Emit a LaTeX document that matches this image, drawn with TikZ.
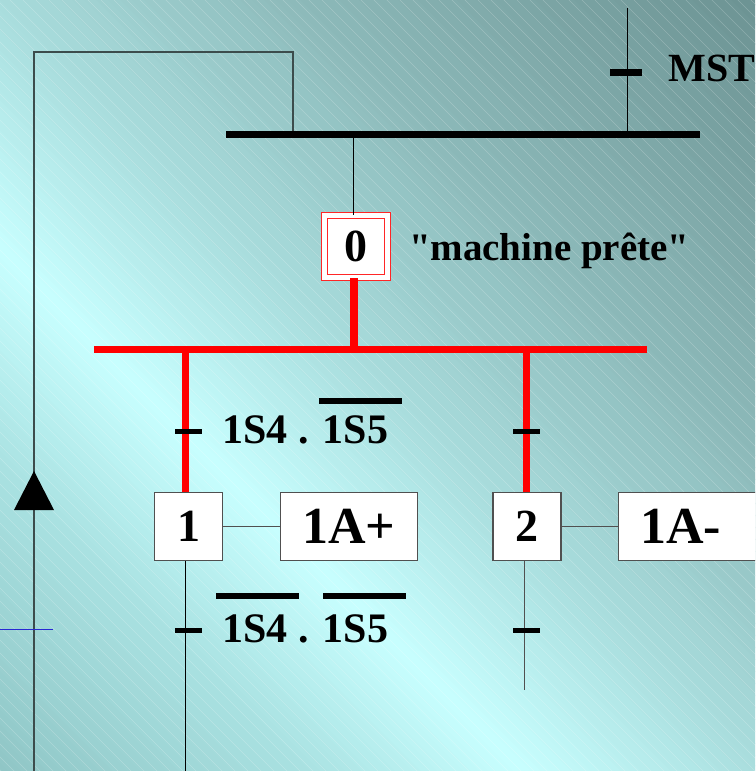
\documentclass[tikz,border=0pt]{standalone}
\usepackage{fontspec}
\setmainfont{Liberation Serif}[Ligatures=TeXOff]
\definecolor{g0}{RGB}{106,144,144}
\definecolor{g1}{RGB}{140,185,185}
\definecolor{g2}{RGB}{168,220,220}
\definecolor{g3}{RGB}{200,255,255}
\definecolor{g4}{RGB}{170,226,226}
\definecolor{g5}{RGB}{142,196,196}
\definecolor{loopc}{RGB}{60,76,76}
\definecolor{boxc}{RGB}{80,80,80}
\definecolor{bluec}{RGB}{40,40,210}
\begin{document}
\begin{tikzpicture}[x=1pt,y=-1pt,
  stepbox/.style={draw=boxc, fill=white, line width=1.3pt, minimum width=68pt, minimum height=68pt, inner sep=0pt, font=\fontsize{46}{46}\selectfont\bfseries},
  initbox/.style={draw=red!85, double=white, double distance=5pt, line width=1pt, fill=white, minimum width=63pt, minimum height=62pt, inner sep=0pt, font=\fontsize{46}{46}\selectfont\bfseries},
  actbox/.style={draw=boxc, fill=white, line width=1.3pt, minimum width=137pt, minimum height=68pt, inner sep=0pt, font=\fontsize{52}{52}\selectfont\bfseries},
  actboxl/.style={draw=boxc, fill=white, line width=1.3pt, minimum height=68pt, inner xsep=21.6pt, inner ysep=0pt, text width=128pt, align=left, font=\fontsize{52}{52}\selectfont\bfseries},
  lbl/.style={anchor=base west, inner sep=0pt, font=\fontsize{42}{42}\selectfont\bfseries},
  thinl/.style={line width=1pt, black},
  tick/.style={line width=5pt, black},
  ovl/.style={line width=6pt, black},
  redl/.style={line width=7pt, red},
]
\useasboundingbox (0,0) rectangle (755,771);
\clip (0,0) rectangle (755,771);
% background gradient (bands parallel to the diagonal hatching)
\foreach \va/\vb/\ca/\cb in {-790/-300/g0/g1, -300/0/g1/g2, 0/250/g2/g3, 250/460/g3/g4, 460/790/g4/g5}{
  \foreach \k in {0,...,24}{
    \pgfmathsetmacro\vs{\va+(\vb-\va)*\k/25}
    \pgfmathsetmacro\ve{\va+(\vb-\va)*(\k+1)/25+1}
    \pgfmathtruncatemacro\p{100*(\k+0.5)/25}
    \colorlet{stripc}{\cb!\p!\ca}
    \fill[stripc] (-10,\vs-10) -- (800,\vs+800) -- (800,\ve+800) -- (-10,\ve-10) -- cycle;
  }
}
\foreach \c in {-790,-777,...,790}{
  \draw[white, opacity=0.22, line width=0.6pt] (-10,\c-10) -- (800,\c+800);
}
% coordinates
\coordinate (barL) at (226,134.5);
\coordinate (barR) at (700,134.5);
\coordinate (loopT) at (293,131);
\coordinate (mstT) at (627,8);
\coordinate (mstB) at (627,131);
\coordinate (j0) at (353.5,138);
\coordinate (rj) at (353.5,349.5);
\coordinate (rbL) at (94,349.5);
\coordinate (rbR) at (647,349.5);
\coordinate (r1) at (185.5,349.5);
\coordinate (r2) at (526,349.5);
\coordinate (b1) at (185.5,771);
\coordinate (b2) at (524,690);
\coordinate (loopB) at (34,771);
% nodes
\node[initbox] (s0) at (356,246.5) {0};
\node[stepbox] (s1) at (188.5,526.5) {1};
\node[actbox] (a1) at (349,526.5) {1A+};
\node[stepbox] (s2) at (527,526.5) {2};
\node[actboxl, anchor=west] (a2) at (618,526.5) {1A-};
% loop back line
\draw[loopc, line width=1.5pt] (loopB) -- (34,52) -- (293,52) -- (loopT);
\fill[black] (34,471) -- (14,510) -- (54,510) -- cycle;
\draw[bluec, line width=0.9pt] (0,629) -- (53,629);
% top synchronisation bar and MST transition
\draw[thinl] (mstT) -- (mstB);
\draw[tick, line width=7pt] (610,72.5) -- (642,72.5);
\draw[line width=7pt] (barL) -- (barR);
\node[lbl, font=\fontsize{40}{40}\selectfont\bfseries] (mst) at (668.5,81) {MST};
% step 0
\draw[thinl] (j0) -- (j0 |- s0.north);
\node[lbl, font=\fontsize{39}{39}\selectfont\bfseries] (mp) at (408.8,260) {"machine prête"};
\draw[red, line width=8pt] (j0 |- s0.south) -- (rj);
\draw[redl] (rbL) -- (rbR);
\draw[redl] (r1) -- (r1 |- s1.north);
\draw[redl] (r2) -- (r2 |- s2.north);
% transitions
\draw[tick] (175,431.5) -- (202,431.5);
\draw[tick] (513,431.5) -- (540,431.5);
\node[lbl] (t1) at (222.3,443) {1S4 . 1S5};
\draw[ovl] (319,400.5) -- (402,400.5);
% links to actions
\draw[boxc, line width=1pt] (s1.east) -- (a1.west);
\draw[boxc, line width=1pt] (s2.east) -- (a2.west);
% below steps
\draw[thinl] (b1 |- s1.south) -- (b1);
\draw[boxc, line width=1pt] (b2 |- s2.south) -- (b2);
\draw[tick] (175,630.5) -- (202,630.5);
\draw[tick] (513,630.5) -- (540,630.5);
\node[lbl] (t2) at (222.3,642) {1S4 . 1S5};
\draw[ovl] (216,596) -- (299,596);
\draw[ovl] (323,596) -- (406,596);
\end{tikzpicture}
\end{document}
